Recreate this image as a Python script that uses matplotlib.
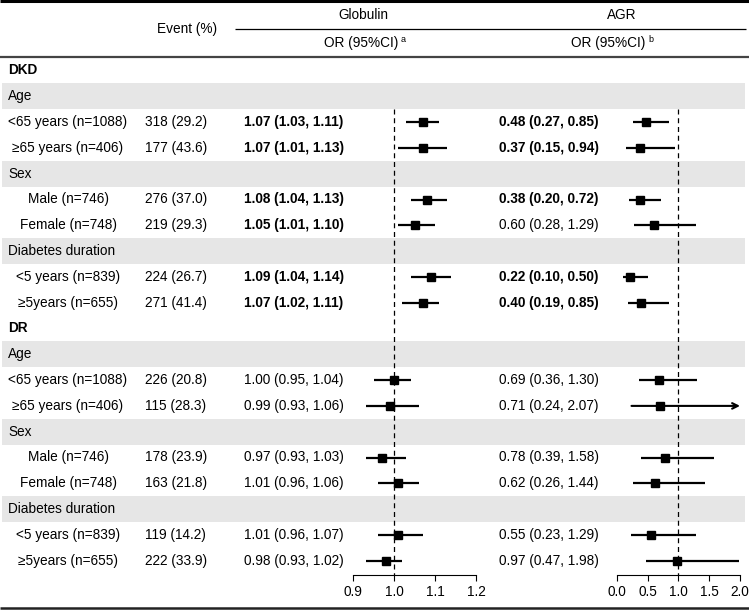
import matplotlib
matplotlib.use("Agg")
import matplotlib.pyplot as plt
from matplotlib.patches import Rectangle

plt.rcParams['font.family'] = ['Liberation Sans', 'DejaVu Sans']

# ---------------- data ----------------
outcomes = ["DKD", "DR"]
subgroups = ["Age", "Sex", "Diabetes duration"]
levels = [["<65 years (n=1088)", "≥65 years (n=406)"],
          ["Male (n=746)", "Female (n=748)"],
          ["<5 years (n=839)", "≥5years (n=655)"]]

events_n = {"DKD": [318, 177, 276, 219, 224, 271],
            "DR":  [226, 115, 178, 163, 119, 222]}
events_pct = {"DKD": [29.2, 43.6, 37.0, 29.3, 26.7, 41.4],
              "DR":  [20.8, 28.3, 23.9, 21.8, 14.2, 33.9]}

glob_or = {"DKD": [1.07, 1.07, 1.08, 1.05, 1.09, 1.07],
           "DR":  [1.00, 0.99, 0.97, 1.01, 1.01, 0.98]}
glob_lo = {"DKD": [1.03, 1.01, 1.04, 1.01, 1.04, 1.02],
           "DR":  [0.95, 0.93, 0.93, 0.96, 0.96, 0.93]}
glob_hi = {"DKD": [1.11, 1.13, 1.13, 1.10, 1.14, 1.11],
           "DR":  [1.04, 1.06, 1.03, 1.06, 1.07, 1.02]}

agr_or = {"DKD": [0.48, 0.37, 0.38, 0.60, 0.22, 0.40],
          "DR":  [0.69, 0.71, 0.78, 0.62, 0.55, 0.97]}
agr_lo = {"DKD": [0.27, 0.15, 0.20, 0.28, 0.10, 0.19],
          "DR":  [0.36, 0.24, 0.39, 0.26, 0.23, 0.47]}
agr_hi = {"DKD": [0.85, 0.94, 0.72, 1.29, 0.50, 0.85],
          "DR":  [1.30, 2.07, 1.58, 1.44, 1.29, 1.98]}

glob_ticks = [0.9, 1.0, 1.1, 1.2]
agr_ticks = [0.0, 0.5, 1.0, 1.5, 2.0]

# ---------------- layout ----------------
W, H = 749, 610
ROW0, ROWH = 70.5, 25.8
AX_BOTTOM = 575.0
FS = 9.8
GRAY = "#e6e6e6"


def ypx(i):
    return ROW0 + ROWH * i


fig = plt.figure(figsize=(W / 100, H / 100), dpi=100)
bg = fig.add_axes([0, 0, 1, 1], zorder=0)
bg.set_xlim(0, W)
bg.set_ylim(H, 0)
bg.axis('off')

# build rows
rows = []  # (kind, label, outcome, k)
for oc in outcomes:
    rows.append(("outcome", oc, oc, None))
    k = 0
    for sg, lv in zip(subgroups, levels):
        rows.append(("sub", sg, oc, None))
        for lab in lv:
            rows.append(("item", lab, oc, k))
            k += 1

# header
bg.plot([0, W], [1, 1], color="black", lw=2.2, clip_on=False, solid_capstyle='butt')
bg.plot([235, 746], [29, 29], color="black", lw=0.9, solid_capstyle='butt')
bg.plot([0, W], [57, 57], color="#444444", lw=1.6, solid_capstyle='butt')
bg.plot([0, W], [608, 608], color="#222222", lw=1.8, clip_on=False, solid_capstyle='butt')

bg.text(187, 29, "Event (%)", ha='center', va='center', fontsize=FS)
bg.text(363, 15, "Globulin", ha='center', va='center', fontsize=FS)
bg.text(622, 15, "AGR", ha='center', va='center', fontsize=FS)
bg.text(398, 43, "OR (95%CI)", ha='right', va='center', fontsize=FS)
bg.text(401, 40, "a", ha='left', va='center', fontsize=6.5)
bg.text(645, 43, "OR (95%CI)", ha='right', va='center', fontsize=FS)
bg.text(648, 40, "b", ha='left', va='center', fontsize=6.5)


def fmt(o, l, h):
    return f"{o:.2f} ({l:.2f}, {h:.2f})"


def signif(l, h):
    return h < 1 or l > 1


for i, (kind, lab, oc, k) in enumerate(rows):
    y = ypx(i)
    if kind == "outcome":
        bg.text(8, y, lab, ha='left', va='center', fontsize=FS, fontweight='bold')
    elif kind == "sub":
        bg.add_patch(Rectangle((2, y - ROWH / 2), 743, ROWH, facecolor=GRAY,
                               edgecolor='none', zorder=0))
        bg.text(8, y, lab, ha='left', va='center', fontsize=FS)
    else:
        bg.text(68, y, lab, ha='center', va='center', fontsize=FS)
        bg.text(145, y, f"{events_n[oc][k]} ({events_pct[oc][k]:.1f})",
                ha='left', va='center', fontsize=FS)
        o, l, h = glob_or[oc][k], glob_lo[oc][k], glob_hi[oc][k]
        bg.text(244, y, fmt(o, l, h), ha='left', va='center', fontsize=FS,
                fontweight='bold' if signif(l, h) else 'normal')
        o, l, h = agr_or[oc][k], agr_lo[oc][k], agr_hi[oc][k]
        bg.text(499, y, fmt(o, l, h), ha='left', va='center', fontsize=FS,
                fontweight='bold' if signif(l, h) else 'normal')

# ---------------- forest panels ----------------
y_top_idx = (0 - ROW0) / ROWH
y_bot_idx = (AX_BOTTOM - ROW0) / ROWH


def forest(x0px, x1px, xlim, ticks, ors, los, his):
    ax = fig.add_axes([x0px / W, (H - AX_BOTTOM) / H, (x1px - x0px) / W, AX_BOTTOM / H],
                      zorder=1)
    ax.set_facecolor('none')
    ax.set_xlim(*xlim)
    ax.set_ylim(y_bot_idx, y_top_idx)
    for s in ('left', 'right', 'top'):
        ax.spines[s].set_visible(False)
    ax.spines['bottom'].set_linewidth(0.8)
    ax.set_yticks([])
    ax.set_xticks(ticks)
    ax.set_xticklabels([f"{t:.1f}" for t in ticks])
    ax.tick_params(axis='x', length=4, width=0.8, pad=3, labelsize=FS)
    first_item = min(i for i, r in enumerate(rows) if r[0] == "item")
    ax.vlines(1.0, first_item - 0.5, y_bot_idx, colors='black', lw=0.9,
              linestyles=(0, (4, 3)), zorder=1)
    for i, (kind, lab, oc, k) in enumerate(rows):
        if kind != "item":
            continue
        o, l, h = ors[oc][k], los[oc][k], his[oc][k]
        if h > xlim[1]:
            ax.annotate('', xy=(xlim[1], i), xytext=(l, i),
                        arrowprops=dict(arrowstyle='->', lw=1.5, color='black',
                                        shrinkA=0, shrinkB=0, mutation_scale=10),
                        annotation_clip=False, zorder=2)
        else:
            ax.plot([l, h], [i, i], color='black', lw=1.6, solid_capstyle='butt', zorder=2)
        ax.plot([o], [i], marker='s', color='black', markersize=6, zorder=3)
    return ax


forest(353.3, 476.0, (0.9, 1.2), glob_ticks, glob_or, glob_lo, glob_hi)
forest(616.7, 740.0, (0.0, 2.0), agr_ticks, agr_or, agr_lo, agr_hi)

fig.savefig("out.png", dpi=100)
